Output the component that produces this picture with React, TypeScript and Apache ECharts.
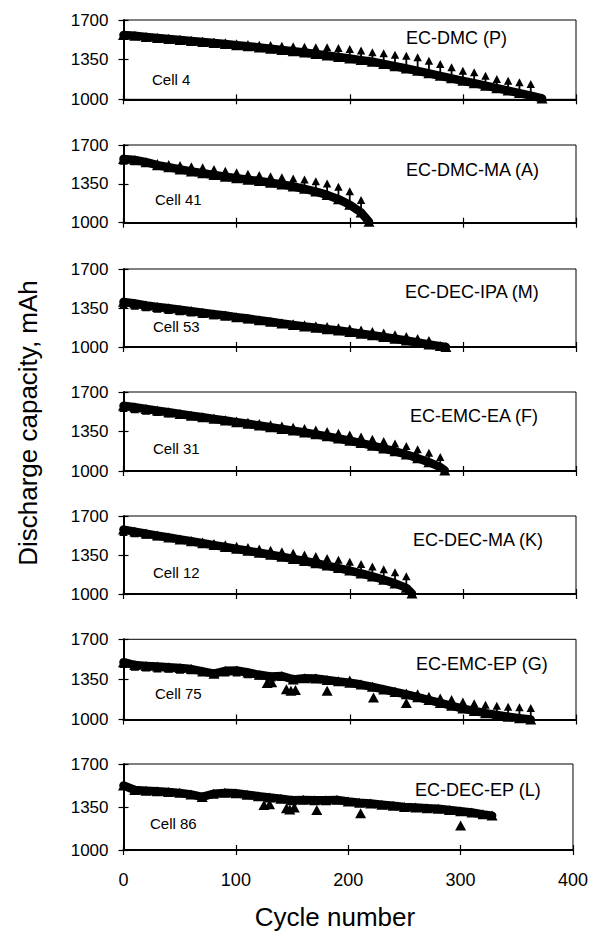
import React, { useEffect, useRef } from "react";
import * as echarts from "echarts";

// ---------- data ----------
const X_TICKS = [0, 100, 200, 300, 400];
const Y_TICKS = [1000, 1350, 1700];

// Panel 1: EC-DMC (P), Cell 4
const P1_CYCLES = [0,10,20,30,40,50,60,70,80,90,100,110,120,130,140,150,160,170,180,190,200,210,220,230,240,250,260,270,280,290,300,310,320,330,340,350,360,370];
const P1_CAP = [1568,1560,1551,1542,1533,1524,1515,1506,1497,1488,1478,1468,1458,1447,1436,1425,1413,1400,1387,1373,1360,1346,1332,1312,1292,1272,1251,1229,1207,1185,1163,1142,1120,1098,1077,1055,1033,1008];
const P1_TIP = [1606,1597,1588,1583,1577,1568,1559,1553,1544,1539,1530,1524,1517,1515,1509,1503,1500,1494,1494,1488,1479,1465,1450,1441,1429,1420,1406,1376,1347,1318,1288,1274,1244,1215,1200,1185,1170];

// Panel 2: EC-DMC-MA (A), Cell 41
const P2_CYCLES = [0,10,20,30,40,50,60,70,80,90,100,110,120,130,140,150,160,170,180,190,200,210,217];
const P2_CAP = [1575,1565,1545,1518,1500,1480,1462,1446,1430,1415,1400,1388,1375,1360,1345,1326,1305,1280,1250,1212,1162,1092,1008];
const P2_TIP = [1595,1590,1580,1575,1565,1555,1545,1535,1520,1505,1490,1478,1465,1455,1445,1435,1425,1410,1390,1360,1320,1240];

// Panel 3: EC-DEC-IPA (M), Cell 53
const P3_CYCLES = [0,10,20,30,40,50,60,70,80,90,100,110,120,130,140,150,160,170,180,190,200,210,220,230,240,250,260,270,280,285];
const P3_CAP = [1405,1390,1372,1360,1347,1335,1322,1308,1295,1282,1268,1255,1240,1226,1212,1198,1185,1172,1160,1148,1135,1120,1105,1090,1074,1058,1040,1022,1008,1000];
const P3_TIP = [1420,1407,1392,1380,1368,1357,1345,1333,1321,1309,1297,1285,1275,1265,1255,1248,1240,1232,1224,1214,1204,1192,1180,1166,1150,1134,1116,1098];

// Panel 4: EC-EMC-EA (F), Cell 31
const P4_CYCLES = [0,10,20,30,40,50,60,70,80,90,100,110,120,130,140,150,160,170,180,190,200,210,220,230,240,250,260,270,280,284];
const P4_CAP = [1578,1565,1550,1535,1520,1505,1490,1476,1462,1448,1433,1418,1403,1388,1373,1358,1342,1325,1307,1288,1268,1247,1224,1200,1174,1146,1114,1078,1035,1005];
const P4_TIP = [1593,1583,1570,1558,1546,1534,1522,1511,1502,1493,1483,1472,1461,1450,1439,1428,1416,1403,1389,1374,1358,1341,1322,1302,1280,1256,1229,1198,1160];

// Panel 5: EC-DEC-MA (K), Cell 12
const P5_CYCLES = [0,10,20,30,40,50,60,70,80,90,100,110,120,130,140,150,160,170,180,190,200,210,220,230,240,250,255];
const P5_CAP = [1578,1560,1542,1524,1507,1490,1473,1456,1439,1422,1405,1388,1370,1352,1334,1315,1296,1276,1255,1233,1210,1185,1158,1128,1095,1055,1005];
const P5_TIP = [1593,1580,1567,1554,1542,1530,1518,1506,1494,1482,1470,1458,1445,1432,1419,1405,1391,1376,1360,1343,1325,1305,1283,1258,1230,1195];

// Panel 6: EC-EMC-EP (G), Cell 75
const P6_CYCLES = [0,10,20,30,40,50,60,70,80,90,100,110,120,130,140,150,160,170,180,190,200,210,220,230,240,250,260,270,280,290,300,310,320,330,340,350,360];
const P6_CAP = [1500,1475,1468,1462,1457,1450,1440,1420,1400,1425,1428,1410,1390,1375,1380,1350,1360,1358,1345,1333,1320,1305,1285,1262,1240,1220,1195,1170,1145,1120,1095,1075,1055,1040,1025,1012,1000];
const P6_TIP = [1520,1495,1488,1480,1477,1470,1465,1450,1440,1445,1445,1430,1420,1410,1410,1395,1395,1402,1378,1367,1385,1350,1330,1300,1285,1271,1263,1242,1228,1213,1193,1176,1164,1155,1146,1141,1135];
const P6_DIP_CYCLES = [127,131,144,148,152,180,221,250];
const P6_DIP_CAP = [1318,1325,1265,1250,1258,1250,1192,1145];

// Panel 7: EC-DEC-EP (L), Cell 86
const P7_CYCLES = [0,10,20,30,40,50,60,70,80,90,100,110,120,130,140,150,160,170,180,190,200,210,220,230,240,250,260,270,280,290,300,310,320,328];
const P7_CAP = [1525,1488,1482,1478,1472,1465,1452,1432,1458,1465,1462,1450,1438,1428,1418,1405,1408,1405,1405,1408,1395,1385,1378,1368,1360,1350,1345,1340,1335,1325,1315,1305,1290,1280];
const P7_DIP_CYCLES = [125,130,145,148,152,172,211,300];
const P7_DIP_CAP = [1366,1372,1340,1330,1345,1326,1300,1200];

const PANELS = [
  { name: "EC-DMC (P)", cell: "Cell 4", cycles: P1_CYCLES, cap: P1_CAP, tip: P1_TIP, dipC: [], dipV: [] },
  { name: "EC-DMC-MA (A)", cell: "Cell 41", cycles: P2_CYCLES, cap: P2_CAP, tip: P2_TIP, dipC: [], dipV: [] },
  { name: "EC-DEC-IPA (M)", cell: "Cell 53", cycles: P3_CYCLES, cap: P3_CAP, tip: P3_TIP, dipC: [], dipV: [] },
  { name: "EC-EMC-EA (F)", cell: "Cell 31", cycles: P4_CYCLES, cap: P4_CAP, tip: P4_TIP, dipC: [], dipV: [] },
  { name: "EC-DEC-MA (K)", cell: "Cell 12", cycles: P5_CYCLES, cap: P5_CAP, tip: P5_TIP, dipC: [], dipV: [] },
  { name: "EC-EMC-EP (G)", cell: "Cell 75", cycles: P6_CYCLES, cap: P6_CAP, tip: P6_TIP, dipC: P6_DIP_CYCLES, dipV: P6_DIP_CAP },
  { name: "EC-DEC-EP (L)", cell: "Cell 86", cycles: P7_CYCLES, cap: P7_CAP, tip: [] as number[], dipC: P7_DIP_CYCLES, dipV: P7_DIP_CAP },
];

const X_TITLE = "Cycle number";
const Y_TITLE = "Discharge capacity, mAh";

// ---------- layout (pixels) ----------
const LAYOUT = [
  { top: 20, height: 79.3, nameX: 406, nameY: 38, cellX: 152, cellY: 79 },
  { top: 145, height: 77.7, nameX: 406, nameY: 170, cellX: 155, cellY: 199 },
  { top: 269, height: 78, nameX: 405, nameY: 292, cellX: 153, cellY: 326 },
  { top: 392, height: 79, nameX: 410, nameY: 416, cellX: 153, cellY: 448 },
  { top: 516, height: 78, nameX: 413, nameY: 540, cellX: 153, cellY: 572 },
  { top: 639.3, height: 80.2, nameX: 416, nameY: 664, cellX: 155, cellY: 693 },
  { top: 764, height: 86, nameX: 415, nameY: 790, cellX: 150, cellY: 823 },
];

const FONT = '"Liberation Sans", Arial, Helvetica, sans-serif';

function buildOption() {
  const grid: any[] = [];
  const xAxis: any[] = [];
  const yAxis: any[] = [];
  const series: any[] = [];
  const graphic: any[] = [];
  const tickStyle = { color: "#000", width: 1.2 };

  PANELS.forEach((p, i) => {
    const l = LAYOUT[i];
    const last = i === PANELS.length - 1;
    grid.push({
      left: 123.5, right: 15, top: l.top, height: l.height,
      show: true, borderColor: "#000", borderWidth: 1, backgroundColor: "transparent",
    });
    const xBase = {
      type: "value", gridIndex: i, min: X_TICKS[0], max: X_TICKS[X_TICKS.length - 1],
      interval: X_TICKS[1] - X_TICKS[0], position: "bottom", splitLine: { show: false },
    };
    xAxis.push({
      ...xBase,
      axisLine: { show: true, onZero: false, lineStyle: { color: "#000", width: 2 } },
      axisTick: { show: true, inside: false, length: 5, lineStyle: tickStyle },
      axisLabel: { show: last, color: "#000", fontSize: 18, fontFamily: FONT, margin: 21, formatter: (v: number) => String(v) },
    });
    xAxis.push({
      ...xBase,
      axisLine: { show: false },
      axisTick: { show: true, inside: true, length: 5, lineStyle: tickStyle },
      axisLabel: { show: false },
    });
    const yBase = {
      type: "value", gridIndex: i, min: Y_TICKS[0], max: Y_TICKS[Y_TICKS.length - 1],
      interval: Y_TICKS[1] - Y_TICKS[0], position: "left", splitLine: { show: false },
    };
    yAxis.push({
      ...yBase,
      axisLine: { show: true, onZero: false, lineStyle: { color: "#000", width: 2 } },
      axisTick: { show: true, inside: false, length: 5, lineStyle: tickStyle },
      axisLabel: { show: true, color: "#000", fontSize: 17, fontFamily: FONT, margin: 15, formatter: (v: number) => String(v) },
    });
    yAxis.push({
      ...yBase,
      axisLine: { show: false },
      axisTick: { show: true, inside: true, length: 5, lineStyle: tickStyle },
      axisLabel: { show: false },
    });

    series.push({
      type: "line",
      xAxisIndex: 2 * i, yAxisIndex: 2 * i,
      data: p.cycles.map((c, k) => [c, p.cap[k]]),
      symbol: "triangle", symbolSize: [11, 10], showAllSymbol: true,
      lineStyle: { color: "#000", width: 8.5, cap: "round", join: "round" },
      itemStyle: { color: "#000", opacity: 1 },
      silent: true, z: 3,
    });

    if (p.tip.length) {
      series.push({
        type: "custom",
        xAxisIndex: 2 * i, yAxisIndex: 2 * i,
        data: p.tip.map((t, k) => [p.cycles[k], p.cap[k], t]),
        encode: { x: 0, y: [1, 2] },
        silent: true, z: 4,
        renderItem: (_params: any, api: any) => {
          const c = api.value(0);
          const base = api.coord([c, api.value(1)]);
          const top = api.coord([c, api.value(2)]);
          const hw = 4.2, hh = 8;
          return {
            type: "group",
            children: [
              {
                type: "line",
                shape: { x1: top[0], y1: top[1] + hh - 1, x2: base[0], y2: base[1] },
                style: { stroke: "#000", lineWidth: 1.8 },
              },
              {
                type: "polygon",
                shape: { points: [[top[0], top[1]], [top[0] - hw, top[1] + hh], [top[0] + hw, top[1] + hh]] },
                style: { fill: "#000" },
              },
            ],
          };
        },
      });
    }

    if (p.dipC.length) {
      series.push({
        type: "scatter",
        xAxisIndex: 2 * i, yAxisIndex: 2 * i,
        data: p.dipC.map((c, k) => [c, p.dipV[k]]),
        symbol: "triangle", symbolSize: [11, 10],
        itemStyle: { color: "#000", opacity: 1 },
        silent: true, z: 3,
      });
    }

    graphic.push({
      type: "text", x: l.nameX, y: l.nameY,
      style: { text: p.name, fill: "#000", font: `18px ${FONT}`, align: "left", verticalAlign: "middle" },
    });
    graphic.push({
      type: "text", x: l.cellX, y: l.cellY,
      style: { text: p.cell, fill: "#000", font: `15px ${FONT}`, align: "left", verticalAlign: "middle" },
    });
  });

  graphic.push({
    type: "text", x: 28, y: 423, rotation: Math.PI / 2,
    style: { text: Y_TITLE, fill: "#000", font: `26px ${FONT}`, align: "center", verticalAlign: "middle" },
  });
  graphic.push({
    type: "text", x: 335, y: 917,
    style: { text: X_TITLE, fill: "#000", font: `26px ${FONT}`, align: "center", verticalAlign: "middle" },
  });

  return {
    animation: false,
    backgroundColor: "#fff",
    grid, xAxis, yAxis, series, graphic,
  };
}

export default function App() {
  const ref = useRef<HTMLDivElement>(null);
  useEffect(() => {
    if (!ref.current) return;
    const chart = echarts.init(ref.current, null, { renderer: "svg" });
    chart.setOption(buildOption() as any);
    return () => chart.dispose();
  }, []);
  return (
    <div
      ref={ref}
      style={{ position: "absolute", left: 0, top: 0, width: 591, height: 931, background: "#fff" }}
    />
  );
}
